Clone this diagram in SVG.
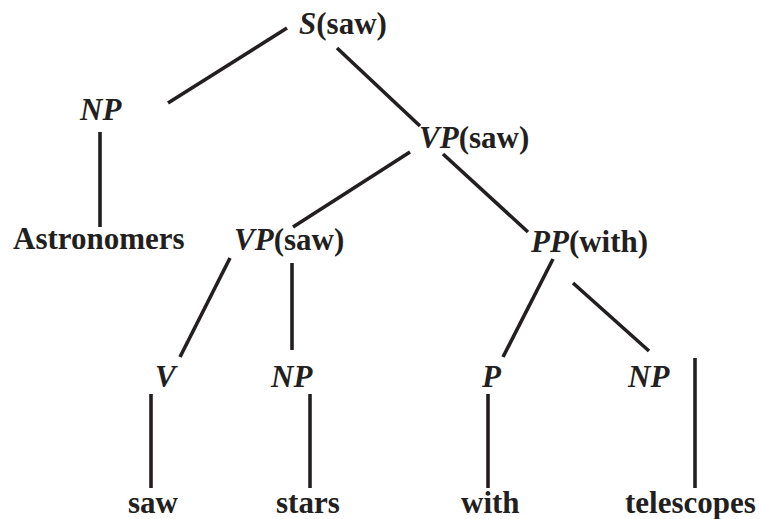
<svg xmlns="http://www.w3.org/2000/svg" width="759" height="519" viewBox="0 0 759 519">
<style>
text{font-size:31px;font-weight:bold;fill:#231f20}
.c{font-style:italic}
#edges line{stroke:#231f20;stroke-width:3.6;stroke-linecap:butt}
</style>
<rect width="759" height="519" fill="#fff"/>
<g id="edges">
<line x1="287" y1="28" x2="168" y2="103"/>
<line x1="337" y1="48" x2="420" y2="126"/>
<line x1="100" y1="132" x2="100" y2="227"/>
<line x1="410" y1="152" x2="293" y2="227"/>
<line x1="443" y1="154" x2="528" y2="232"/>
<line x1="230" y1="258" x2="180" y2="357"/>
<line x1="292" y1="263" x2="292" y2="350"/>
<line x1="553" y1="259" x2="503" y2="357"/>
<line x1="573" y1="283" x2="649" y2="351"/>
<line x1="151" y1="394" x2="151" y2="488"/>
<line x1="310" y1="394" x2="310" y2="488"/>
<line x1="488" y1="394" x2="488" y2="488"/>
<line x1="695" y1="358" x2="695" y2="488"/>
</g>
<g font-family="'Liberation Serif', 'DejaVu Serif', serif">
<g id="S"><text x="299" y="34"><tspan class="c">S</tspan>(saw)</text></g>
<g id="NP1"><text x="80" y="120" class="c">NP</text></g>
<g id="VP1"><text x="419" y="148"><tspan class="c">VP</tspan>(saw)</text></g>
<g id="Astronomers"><text x="13" y="249">Astronomers</text></g>
<g id="VP2"><text x="234" y="250"><tspan class="c">VP</tspan>(saw)</text></g>
<g id="PP"><text x="531" y="252"><tspan class="c">PP</tspan>(with)</text></g>
<g id="V"><text x="155" y="387" class="c">V</text></g>
<g id="NP2"><text x="271" y="387" class="c">NP</text></g>
<g id="P"><text x="482" y="387" class="c">P</text></g>
<g id="NP3"><text x="628" y="387" class="c">NP</text></g>
<g id="saw"><text x="128" y="513">saw</text></g>
<g id="stars"><text x="276" y="513">stars</text></g>
<g id="with"><text x="461" y="513">with</text></g>
<g id="telescopes"><text x="625" y="513">telescopes</text></g>
</g>
</svg>
